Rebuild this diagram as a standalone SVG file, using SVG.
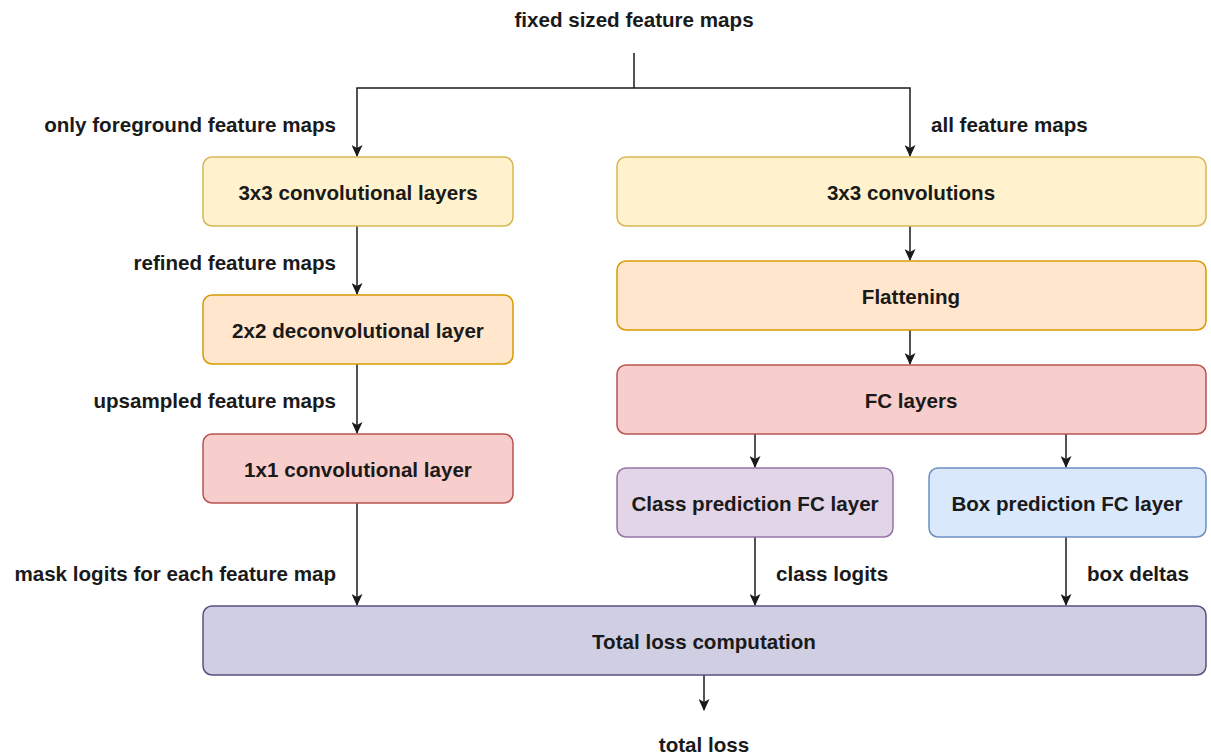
<svg xmlns="http://www.w3.org/2000/svg" width="1211" height="755" viewBox="0 0 1211 755">
  <style>
    text { font-family: "Liberation Sans", Arial, sans-serif; font-weight: bold; font-size: 20.6px; fill: #1a1a1a; }
    .mid { text-anchor: middle; dominant-baseline: central; }
    .end { text-anchor: end; dominant-baseline: central; }
    .start { text-anchor: start; dominant-baseline: central; }
    .box { stroke-width: 1.5; }
    .yellow { fill: #fff2cc; stroke: #d6b656; }
    .orange { fill: #ffe6cc; stroke: #d79b00; }
    .red { fill: #f8cecc; stroke: #b85450; }
    .purple { fill: #e1d5e7; stroke: #9673a6; }
    .blue { fill: #dae8fc; stroke: #6c8ebf; }
    .navy { fill: #d0cee2; stroke: #56517e; }
    .edge { fill: none; stroke: #1a1a1a; stroke-width: 1.5; }
  </style>
  <defs>
    <marker id="arrow" viewBox="0 0 12 11" refX="11" refY="5.5" markerWidth="12" markerHeight="11" markerUnits="userSpaceOnUse" orient="auto">
      <path d="M0,0 L12,5.5 L0,11 L3,5.5 Z" fill="#1a1a1a"/>
    </marker>
  </defs>
  <rect width="1211" height="755" fill="#ffffff"/>

  <!-- connectors -->
  <g id="connectors">
    <path class="edge" d="M634,53 L634,88"/>
    <path class="edge" d="M634,88 L357,88 L357,156" marker-end="url(#arrow)"/>
    <path class="edge" d="M634,88 L910,88 L910,156" marker-end="url(#arrow)"/>
    <path class="edge" d="M357,226 L357,294" marker-end="url(#arrow)"/>
    <path class="edge" d="M357,364 L357,433" marker-end="url(#arrow)"/>
    <path class="edge" d="M357,503 L357,605" marker-end="url(#arrow)"/>
    <path class="edge" d="M910,226 L910,260" marker-end="url(#arrow)"/>
    <path class="edge" d="M910,330 L910,364" marker-end="url(#arrow)"/>
    <path class="edge" d="M755,434 L755,467" marker-end="url(#arrow)"/>
    <path class="edge" d="M1066,434 L1066,467" marker-end="url(#arrow)"/>
    <path class="edge" d="M755,537 L755,605" marker-end="url(#arrow)"/>
    <path class="edge" d="M1066,537 L1066,605" marker-end="url(#arrow)"/>
    <path class="edge" d="M704,675 L704,710" marker-end="url(#arrow)"/>
  </g>

  <!-- edge labels -->
  <g id="labels">
    <text class="mid" x="634" y="19">fixed sized feature maps</text>
    <text class="end" x="336" y="124">only foreground feature maps</text>
    <text class="start" x="931" y="124">all feature maps</text>
    <text class="end" x="336" y="262">refined feature maps</text>
    <text class="end" x="336" y="400">upsampled feature maps</text>
    <text class="end" x="336" y="573">mask logits for each feature map</text>
    <text class="start" x="776" y="573">class logits</text>
    <text class="start" x="1087" y="573">box deltas</text>
    <text class="mid" x="704" y="744">total loss</text>
  </g>

  <g id="conv3x3-layers">
    <rect class="box yellow" x="203" y="157" width="310" height="69" rx="9"/>
    <text class="mid" x="358" y="192">3x3 convolutional layers</text>
  </g>
  <g id="deconv2x2">
    <rect class="box orange" x="203" y="295" width="310" height="69" rx="9"/>
    <text class="mid" x="358" y="330">2x2 deconvolutional layer</text>
  </g>
  <g id="conv1x1">
    <rect class="box red" x="203" y="434" width="310" height="69" rx="9"/>
    <text class="mid" x="358" y="469">1x1 convolutional layer</text>
  </g>
  <g id="conv3x3">
    <rect class="box yellow" x="617" y="157" width="589" height="69" rx="9"/>
    <text class="mid" x="911" y="192">3x3 convolutions</text>
  </g>
  <g id="flattening">
    <rect class="box orange" x="617" y="261" width="589" height="69" rx="9"/>
    <text class="mid" x="911" y="296">Flattening</text>
  </g>
  <g id="fc-layers">
    <rect class="box red" x="617" y="365" width="589" height="69" rx="9"/>
    <text class="mid" x="911" y="400">FC layers</text>
  </g>
  <g id="class-fc">
    <rect class="box purple" x="617" y="468" width="276" height="69" rx="9"/>
    <text class="mid" x="755" y="503">Class prediction FC layer</text>
  </g>
  <g id="box-fc">
    <rect class="box blue" x="929" y="468" width="277" height="69" rx="9"/>
    <text class="mid" x="1067" y="503">Box prediction FC layer</text>
  </g>
  <g id="total-loss">
    <rect class="box navy" x="203" y="606" width="1003" height="69" rx="9"/>
    <text class="mid" x="704" y="641">Total loss computation</text>
  </g>
</svg>
